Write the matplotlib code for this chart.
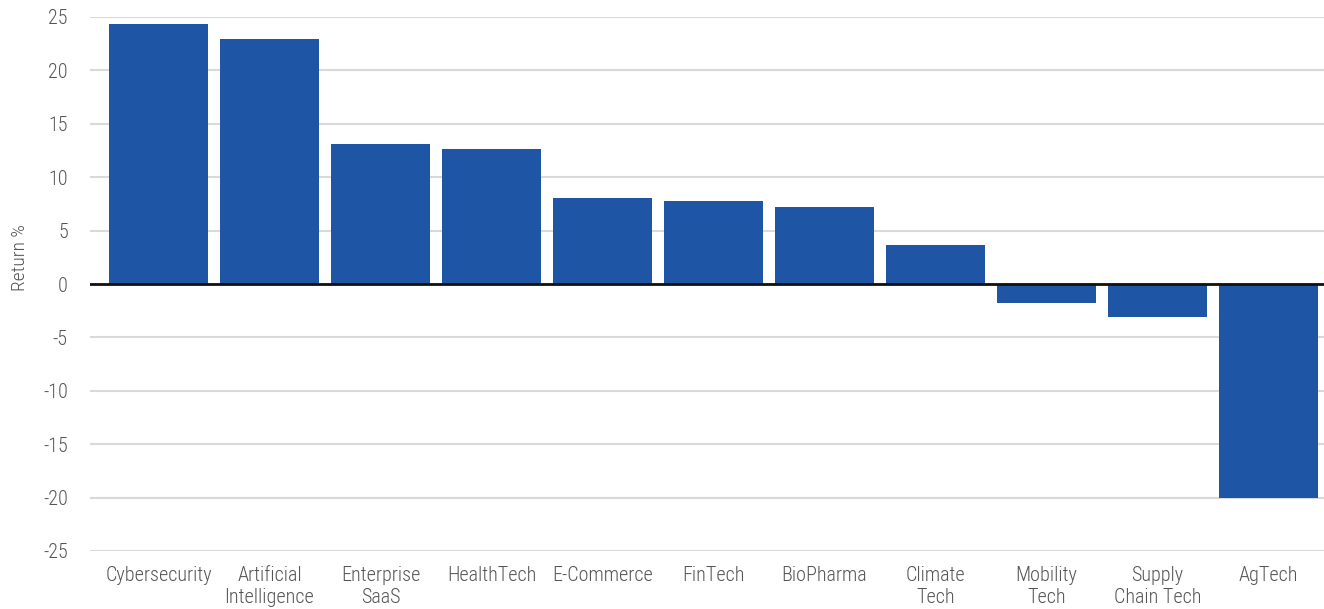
import matplotlib
matplotlib.use("Agg")
import matplotlib.pyplot as plt
from matplotlib import font_manager

# Sector returns
sectors = ['Cybersecurity', 'Artificial\nIntelligence', 'Enterprise\nSaaS', 'HealthTech',
           'E-Commerce', 'FinTech', 'BioPharma', 'Climate\nTech', 'Mobility\nTech',
           'Supply\nChain Tech', 'AgTech']
returns = [24.3, 22.9, 13.1, 12.6, 8.05, 7.8, 7.2, 3.65, -1.8, -3.1, -20.0]
yticks = [25, 20, 15, 10, 5, 0, -5, -10, -15, -20, -25]

names = {f.name for f in font_manager.fontManager.ttflist}
family = 'Roboto Condensed' if 'Roboto Condensed' in names else 'Roboto'
plt.rcParams['font.family'] = [family, 'DejaVu Sans']
plt.rcParams['font.weight'] = 'light'

text_col = '#555555'
bar_col = '#1f55a5'

fig = plt.figure(figsize=(13.24, 6.09), dpi=100)
ax = fig.add_axes([90 / 1324, 1 - 551 / 609, 1 - 90 / 1324, (551 - 17) / 609])

x = range(len(sectors))
ax.bar(x, returns, width=0.89, color=bar_col, zorder=3)
ax.axhline(0, color='#111111', linewidth=2, zorder=4)

ax.set_ylim(-25, 25)
ax.set_xlim(-0.617, 10.5)
ax.set_yticks(yticks)
ax.set_yticklabels([str(v) for v in yticks])
ax.yaxis.grid(True, color='#d9d9d9', linewidth=1.5, zorder=0)
ax.set_xticks(list(x))
ax.set_xticklabels(sectors, linespacing=1.2)
ax.tick_params(axis='both', length=0, labelsize=14.5, labelcolor=text_col)
ax.tick_params(axis='x', pad=11)
ax.tick_params(axis='y', pad=16)
for s in ax.spines.values():
    s.set_visible(False)
ax.set_ylabel('Return %', fontsize=14, color=text_col, fontweight='light')
ax.yaxis.set_label_coords(-61 / 1234, (551 - 258) / 534)

fig.savefig('out.png', dpi=100)
